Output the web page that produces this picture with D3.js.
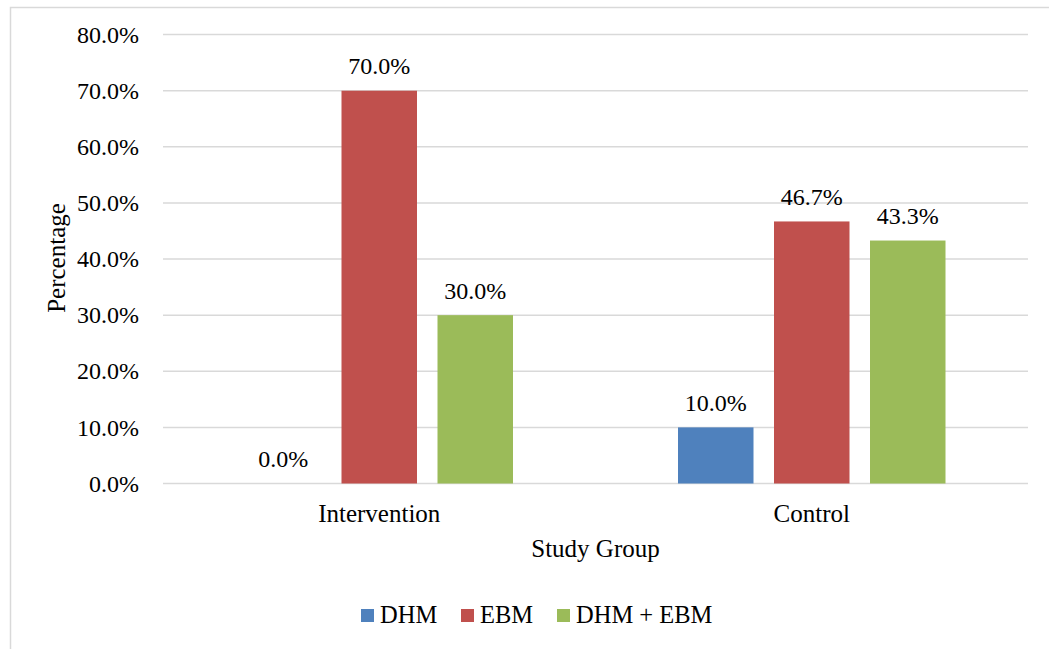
<!DOCTYPE html>
<html>
<head>
<meta charset="utf-8">
<script src="https://cdn.jsdelivr.net/npm/d3@7"></script>
<style>
  html, body { margin: 0; padding: 0; background: #fff; }
  svg text { font-family: "Liberation Serif", "Times New Roman", serif; fill: #000; }
</style>
</head>
<body>
<svg id="chart" width="1049" height="649"></svg>
<script>
// Study groups on the x axis
const groups = ["Intervention", "Control"];
// Feeding type series
const seriesNames = ["DHM", "EBM", "DHM + EBM"];
const seriesColors = ["#4f81bd", "#c0504d", "#9bbb59"];
// Percentages per series, one value per study group
const dhmValues = [0.0, 10.0];
const ebmValues = [70.0, 46.7];
const dhmEbmValues = [30.0, 43.3];
// Y axis ticks
const yTicks = [0, 10, 20, 30, 40, 50, 60, 70, 80];

const seriesValues = [dhmValues, ebmValues, dhmEbmValues];

const svg = d3.select("#chart");
const W = 1049, H = 649;
const tickFont = 24;
const titleFont = 25;
const legendFont = 24.5;

// outer chart frame
svg.append("rect")
  .attr("x", 10.5).attr("y", 7.5)
  .attr("width", W + 10).attr("height", H + 10)
  .attr("fill", "#fff")
  .attr("stroke", "#d9d9d9")
  .attr("stroke-width", 1.5);

const plot = { left: 163, right: 1028, top: 34.6, bottom: 483.5 };

const y = d3.scaleLinear().domain([0, 80]).range([plot.bottom, plot.top]);
const x0 = d3.scaleBand().domain(groups).range([plot.left, plot.right])
  .paddingInner(0).paddingOuter(0);
const x1 = d3.scaleBand().domain(seriesNames)
  .range([82.5, x0.bandwidth() - 82.5])
  .paddingInner(20.5 / 96);

// gridlines
svg.append("g").selectAll("line")
  .data(yTicks)
  .join("line")
  .attr("x1", plot.left).attr("x2", plot.right)
  .attr("y1", d => y(d)).attr("y2", d => y(d))
  .attr("stroke", "#d9d9d9")
  .attr("stroke-width", 1.5);

// y axis labels
const yAxis = d3.axisLeft(y).tickValues(yTicks)
  .tickFormat(d => d.toFixed(1) + "%")
  .tickSize(0).tickPadding(24);
const gy = svg.append("g").attr("transform", `translate(${plot.left},0)`).call(yAxis);
gy.select(".domain").remove();
gy.selectAll("text")
  .style("font-family", "Liberation Serif")
  .style("font-size", tickFont + "px")
  .attr("fill", "#000");

// x axis labels
const xAxis = d3.axisBottom(x0).tickSize(0);
const gx = svg.append("g").attr("transform", `translate(0,${plot.bottom})`).call(xAxis);
gx.select(".domain").remove();
gx.selectAll("text")
  .attr("y", 38.5)
  .attr("dy", null)
  .style("font-family", "Liberation Serif")
  .style("font-size", titleFont + "px")
  .attr("fill", "#000");

// bars
const barData = [];
groups.forEach((g, gi) => {
  seriesNames.forEach((s, si) => {
    barData.push({ group: g, series: s, value: seriesValues[si][gi], color: seriesColors[si] });
  });
});

const barG = svg.append("g");
barG.selectAll("rect")
  .data(barData)
  .join("rect")
  .attr("x", d => x0(d.group) + x1(d.series))
  .attr("width", x1.bandwidth())
  .attr("y", d => y(d.value))
  .attr("height", d => y(0) - y(d.value))
  .attr("fill", d => d.color);

// value labels
barG.selectAll("text")
  .data(barData)
  .join("text")
  .attr("x", d => x0(d.group) + x1(d.series) + x1.bandwidth() / 2)
  .attr("y", d => y(d.value) - 16.5)
  .attr("text-anchor", "middle")
  .style("font-size", tickFont + "px")
  .text(d => d.value.toFixed(1) + "%");

// axis titles
svg.append("text")
  .attr("x", (plot.left + plot.right) / 2)
  .attr("y", 557)
  .attr("text-anchor", "middle")
  .style("font-size", titleFont + "px")
  .text("Study Group");

svg.append("text")
  .attr("transform", `translate(65,258) rotate(-90)`)
  .attr("text-anchor", "middle")
  .style("font-size", titleFont + "px")
  .text("Percentage");

// legend
const legendX = [361, 461, 557];
const legend = svg.append("g");
const items = legend.selectAll("g")
  .data(seriesNames)
  .join("g")
  .attr("transform", (d, i) => `translate(${legendX[i]},609)`);
items.append("rect")
  .attr("width", 13).attr("height", 13)
  .attr("fill", (d, i) => seriesColors[i]);
items.append("text")
  .attr("x", 19).attr("y", 14)
  .style("font-size", legendFont + "px")
  .text(d => d);
</script>
</body>
</html>
